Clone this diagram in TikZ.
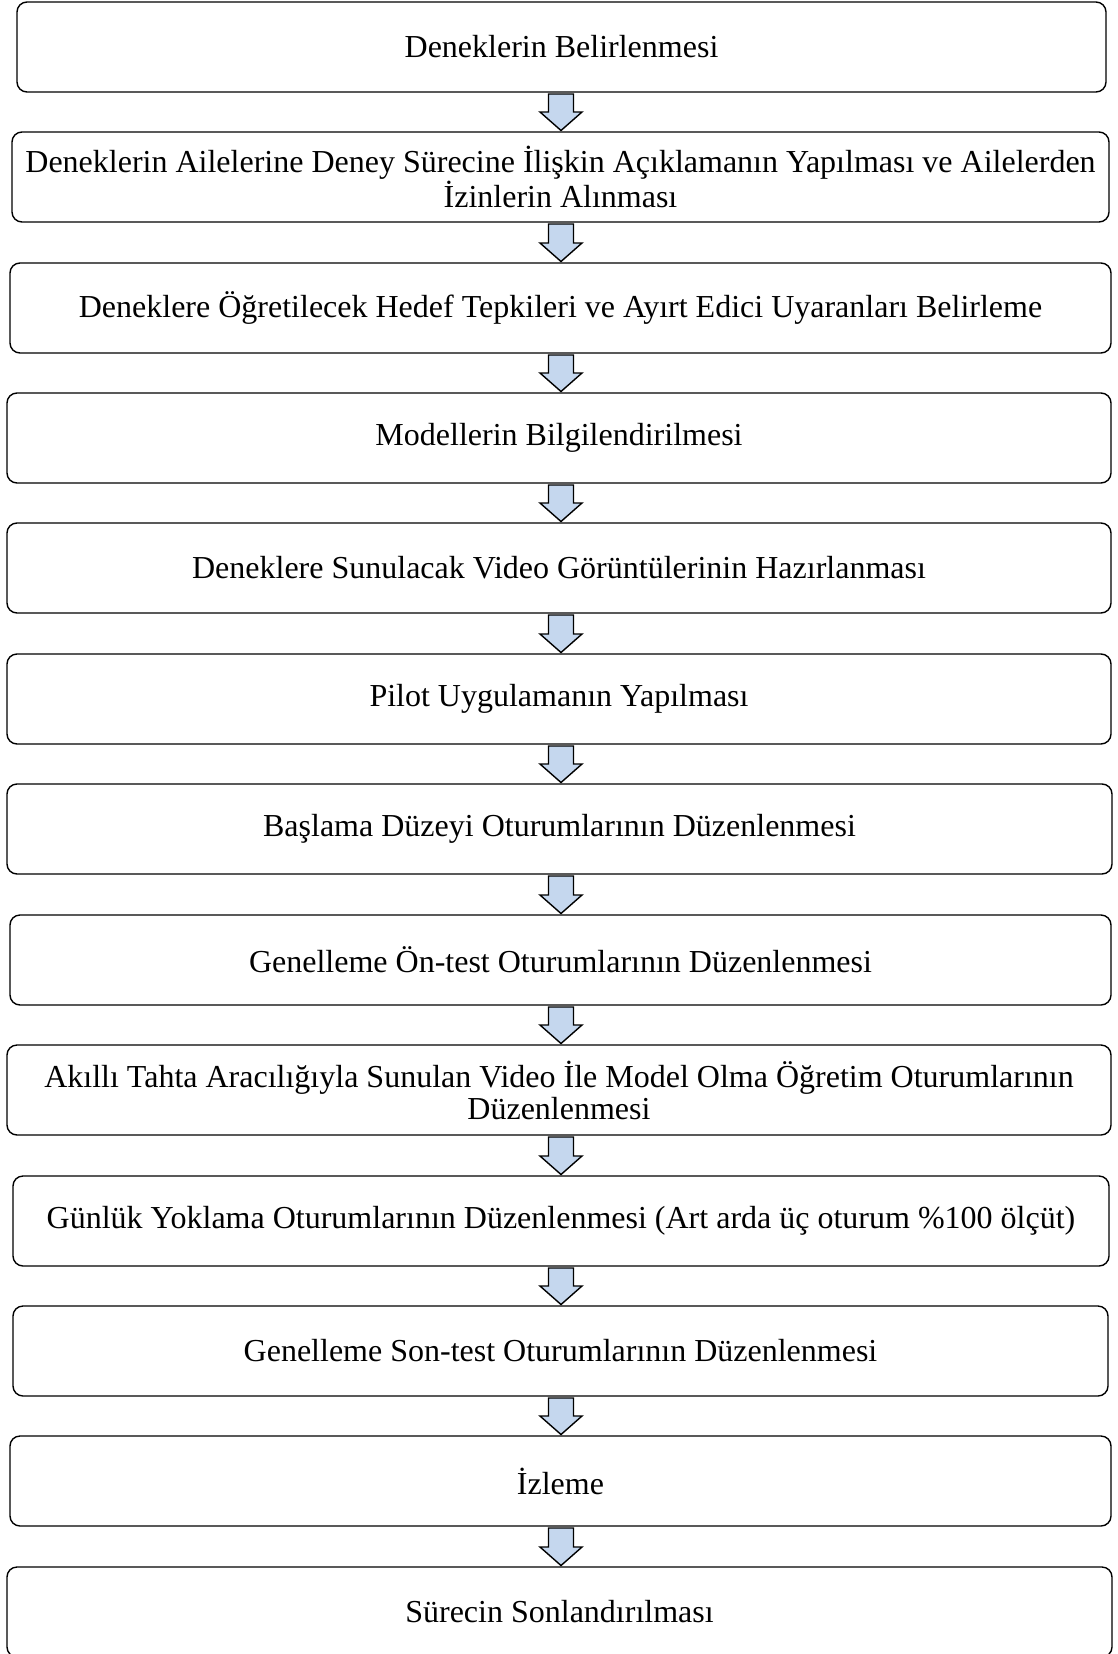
\documentclass[tikz,border=0pt]{standalone}
\usepackage{fontspec}
\setmainfont{Liberation Serif}
\usetikzlibrary{calc}
\definecolor{arrfill}{RGB}{197,215,238}
\tikzset{
  stepbox/.style={draw=black, line width=1.4pt, rounded corners=10pt, inner sep=0pt, outer sep=0pt,
    minimum height=90pt, align=center, font=\fontsize{32}{32}\selectfont},
  flowarr/.style={draw=black, line width=1.4pt, line join=miter, fill=arrfill}
}
\newcommand\flowarrow[2]{%
  \draw[flowarr] let \p1=(#1.south), \p2=(#2.north) in
   (548.5pt,\y1-2pt) -- (573.5pt,\y1-2pt) -- (573.5pt,\y2+20pt) -- (582pt,\y2+20pt)
   -- (561pt,\y2+1.5pt) -- (540pt,\y2+20pt) -- (548.5pt,\y2+20pt) -- cycle;}
\begin{document}
\begin{tikzpicture}[x=1pt,y=-1pt]
\useasboundingbox (0,0) rectangle (1117,1654);
\node[stepbox, minimum width=1089pt] (b1) at (561.5,47) {Deneklerin Belirlenmesi};
\node[stepbox, minimum width=1097pt] (b2) at (560.5,177) {Deneklerin Ailelerine Deney Sürecine İlişkin Açıklamanın Yapılması ve Ailelerden\\İzinlerin Alınması};
\node[stepbox, minimum width=1101pt] (b3) at (560.5,308) {Deneklere Öğretilecek Hedef Tepkileri ve Ayırt Edici Uyaranları Belirleme};
\node[stepbox, minimum width=1104pt] (b4) at (559,438) {Modellerin Bilgilendirilmesi};
\node[stepbox, minimum width=1104pt] (b5) at (559,568) {Deneklere Sunulacak Video Görüntülerinin Hazırlanması};
\node[stepbox, minimum width=1104pt] (b6) at (559,699) {Pilot Uygulamanın Yapılması};
\node[stepbox, minimum width=1105pt] (b7) at (559.5,829) {Başlama Düzeyi Oturumlarının Düzenlenmesi};
\node[stepbox, minimum width=1101pt] (b8) at (560.5,960) {Genelleme Ön-test Oturumlarının Düzenlenmesi};
\node[stepbox, minimum width=1104pt] (b9) at (559,1090) {Akıllı Tahta Aracılığıyla Sunulan Video İle Model Olma Öğretim Oturumlarının\\Düzenlenmesi};
\node[stepbox, minimum width=1096pt] (b10) at (561,1221) {Günlük Yoklama Oturumlarının Düzenlenmesi (Art arda üç oturum \%100 ölçüt)};
\node[stepbox, minimum width=1095pt] (b11) at (560.5,1351) {Genelleme Son-test Oturumlarının Düzenlenmesi};
\node[stepbox, minimum width=1101pt] (b12) at (560.5,1481) {İzleme};
\node[stepbox, minimum width=1105pt] (b13) at (559.5,1612) {Sürecin Sonlandırılması};
\flowarrow{b1}{b2}
\flowarrow{b2}{b3}
\flowarrow{b3}{b4}
\flowarrow{b4}{b5}
\flowarrow{b5}{b6}
\flowarrow{b6}{b7}
\flowarrow{b7}{b8}
\flowarrow{b8}{b9}
\flowarrow{b9}{b10}
\flowarrow{b10}{b11}
\flowarrow{b11}{b12}
\flowarrow{b12}{b13}
\end{tikzpicture}
\end{document}
